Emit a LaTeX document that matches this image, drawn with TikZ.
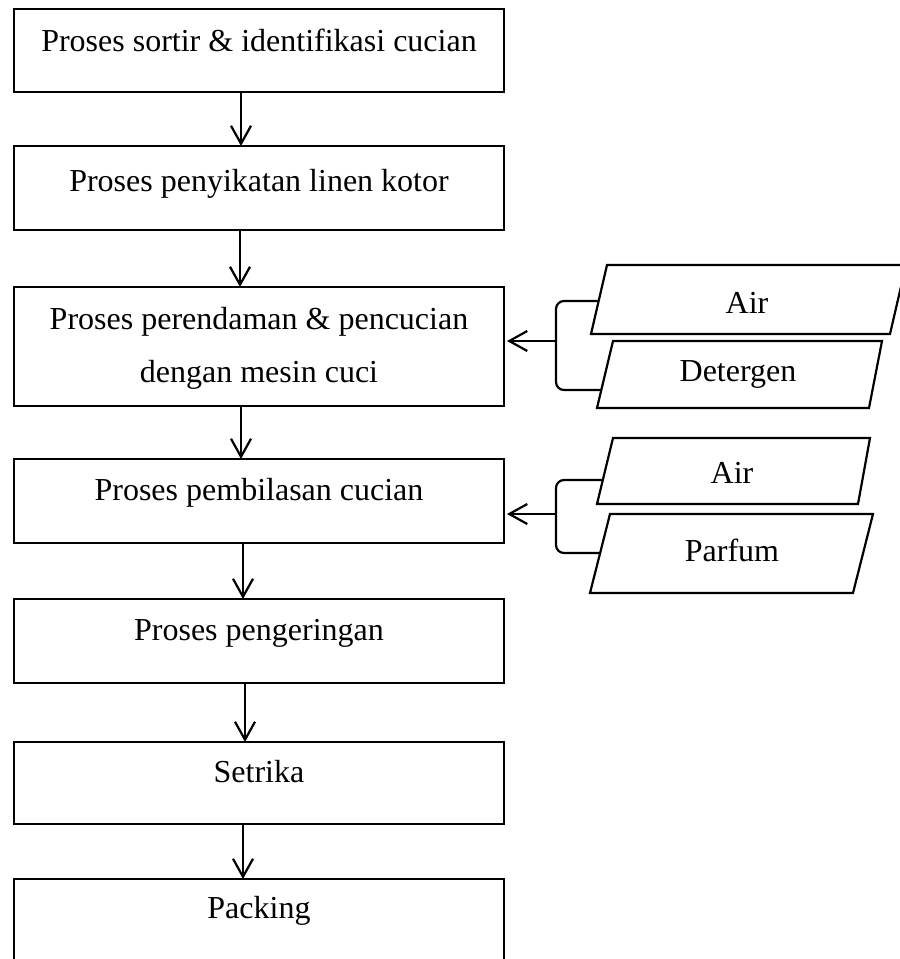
\documentclass[tikz,border=0pt]{standalone}
\usepackage{fontspec}
\setmainfont{Liberation Serif}
\usetikzlibrary{arrows.meta}
\begin{document}
\begin{tikzpicture}[x=1pt,y=-1pt,
  box/.style={draw, line width=2.2pt, rectangle, inner sep=0pt, outer sep=0pt, minimum width=490pt},
  txt/.style={anchor=base, inner sep=0pt, font=\fontsize{32}{38}\selectfont},
  arr/.style={line width=2.2pt, -{Straight Barb[length=18pt, width=20pt, line width=2.2pt]}},
  lin/.style={line width=2.2pt, line join=miter}]
\useasboundingbox (0,0) rectangle (900,959);

% main boxes
\node[box, minimum height=83pt] (b1) at (259,50.5) {};
\node[box, minimum height=84pt] (b2) at (259,188) {};
\node[box, minimum height=119pt] (b3) at (259,346.5) {};
\node[box, minimum height=84pt] (b4) at (259,501) {};
\node[box, minimum height=84pt] (b5) at (259,641) {};
\node[box, minimum height=82pt] (b6) at (259,783) {};
\node[box, minimum height=83pt] (b7) at (259,920.5) {};

% box texts
\node[txt] (t1) at (259,51) {Proses sortir \& identifikasi cucian};
\node[txt] (t2) at (259,191) {Proses penyikatan linen kotor};
\node[txt] (t3a) at (259,329) {Proses perendaman \& pencucian};
\node[txt] (t3b) at (259,382) {dengan mesin cuci};
\node[txt] (t4) at (259,500) {Proses pembilasan cucian};
\node[txt] (t5) at (259,640) {Proses pengeringan};
\node[txt] (t6) at (259,782) {Setrika};
\node[txt] (t7) at (259,918) {Packing};

% vertical arrows
\draw[arr] ([xshift=-18pt]b1.south) -- ([xshift=-18pt]b2.north);
\draw[arr] ([xshift=-19pt]b2.south) -- ([xshift=-19pt]b3.north);
\draw[arr] ([xshift=-18pt]b3.south) -- ([xshift=-18pt]b4.north);
\draw[arr] ([xshift=-16pt]b4.south) -- ([xshift=-16pt]b5.north);
\draw[arr] ([xshift=-14pt]b5.south) -- ([xshift=-14pt]b6.north);
\draw[arr] ([xshift=-16pt]b6.south) -- ([xshift=-16pt]b7.north);

% input parallelograms
\draw[lin] (607,265) -- (906,265) -- (890,334) -- (591,334) -- cycle;
\draw[lin] (613,341) -- (882,341) -- (869,408) -- (597,408) -- cycle;
\draw[lin] (613,438) -- (870,438) -- (858,504) -- (597,504) -- cycle;
\draw[lin] (610,514) -- (873,514) -- (853,593) -- (590,593) -- cycle;

\node[txt] (air1) at (747,313) {Air};
\node[txt] (det) at (738,381) {Detergen};
\node[txt] (air2) at (732,483) {Air};
\node[txt] (parf) at (732,561) {Parfum};

% brackets
\coordinate (p1l) at (599,301);
\coordinate (p2l) at (601,390);
\coordinate (p3l) at (603,480);
\coordinate (p4l) at (600,553);
\coordinate (j1) at (556,341);
\coordinate (j2) at (556,514);
\draw[lin, rounded corners=8pt] (p1l) -- (p1l -| j1) -- (p2l -| j1) -- (p2l);
\draw[lin, rounded corners=8pt] (p3l) -- (p3l -| j2) -- (p4l -| j2) -- (p4l);
\draw[arr] (j1) -- ([xshift=3pt]j1 -| b3.east);
\draw[arr] (j2) -- ([xshift=3pt]j2 -| b4.east);
\end{tikzpicture}
\end{document}
